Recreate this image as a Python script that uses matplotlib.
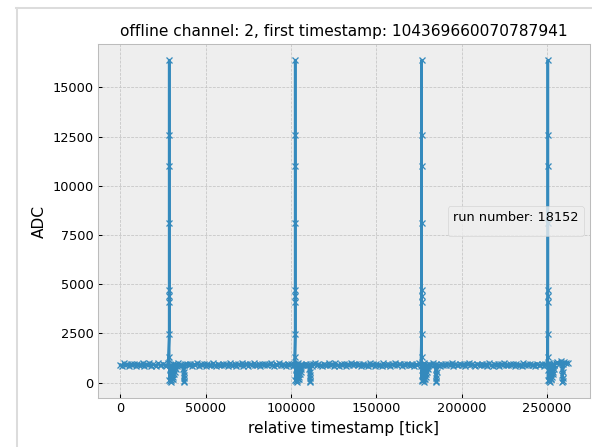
import numpy as np
import matplotlib
matplotlib.use("Agg")
import matplotlib.pyplot as plt
from matplotlib.lines import Line2D
from matplotlib.ticker import MultipleLocator

plt.style.use("bmh")

# ---- data ----
title_text = "offline channel: 2, first timestamp: 104369660070787941"
run_label = "run number: 18152"

# baseline samples (every 1000 ticks)
baseline_step = 1000
baseline_adc = [
    905, 860, 985, 880, 940, 835, 970, 900, 925, 855,
    960, 875, 915, 1000, 840, 935, 890, 975, 865, 945,
    910, 850, 980, 895, 880, 950, 920, 860, 995, 905,
    870, 955, 930, 845, 975, 890, 915, 875, 960, 925,
    885, 970, 840, 935, 905, 990, 865, 930, 895, 955,
    855, 945, 910, 880, 1005, 900, 865, 950, 920, 875,
    965, 890, 935, 845, 980, 905, 885, 960, 860, 940,
    900, 990, 870, 925, 950, 855, 935, 895, 975, 880,
    915, 955, 865, 945, 890, 970, 875, 930, 995, 900,
    850, 940, 905, 980, 880, 950, 920, 860, 965, 890,
    935, 870, 960, 900, 995, 865, 945, 910, 875, 970,
    895, 950, 855, 930, 985, 885, 940, 905, 865, 960,
    920, 880, 975, 895, 950, 870, 990, 910, 860, 945,
    905, 965, 850, 935, 890, 980, 875, 925, 955, 885,
    940, 860, 970, 900, 915, 850, 985, 895, 930, 870,
    955, 890, 920, 840, 975, 910, 880, 965, 865, 935,
    900, 985, 875, 930, 945, 855, 925, 905, 970, 885,
    910, 960, 870, 940, 895, 975, 865, 935, 990, 900,
    845, 930, 915, 980, 885, 955, 920, 870, 960, 895,
    925, 875, 955, 905, 1000, 860, 945, 915, 880, 965,
    890, 945, 860, 925, 980, 890, 935, 900, 870, 950,
    915, 885, 970, 890, 955, 865, 985, 905, 855, 940,
    900, 960, 855, 930, 895, 975, 880, 920, 950, 890,
    935, 865, 965, 905, 920, 845, 980, 900, 925, 875,
    950, 895, 915, 850, 970, 905, 885, 960, 870, 930,
    905, 980, 870, 935, 940, 990, 1040, 960, 1090, 935,
    1060, 985, 1020,
]

# pulse start ticks
pulse_starts = [28600, 102400, 176400, 250400]
# pulse: tick offsets and ADC values
pulse_offsets = [0, 3, 6, 9, 12, 15, 18, 21, 24]
pulse_adc = [2449, 8128, 16383, 12566, 11020, 4694, 4388, 4097, 1290]
# undershoot after the pulse
dip_offsets = [100, 300, 500, 700, 900, 1100, 1300, 1500, 1700, 1900,
               2100, 2300, 2500, 2700, 2900, 3100, 3300, 3500, 3700, 3900]
dip_adc = [150, 650, 80, 720, 120, 560, 60, 680, 200, 760,
           170, 620, 300, 800, 420, 850, 560, 900, 720, 880]
# secondary small dip
dip2_offsets = [8300, 8400, 8500, 8600, 8700, 8800]
dip2_adc = [700, 380, 40, 250, 90, 520]

# ---- assemble ----
xs = list(np.arange(len(baseline_adc)) * baseline_step)
ys = list(baseline_adc)
for s in pulse_starts:
    for off, v in zip(pulse_offsets + dip_offsets + dip2_offsets,
                      pulse_adc + dip_adc + dip2_adc):
        xs.append(s + off)
        ys.append(v)
xs = np.array(xs)
ys = np.array(ys)
order = np.argsort(xs, kind="stable")
xs, ys = xs[order], ys[order]

fig = plt.figure(figsize=(6.4, 447 / 92.5), dpi=92.5, facecolor="white")
ax = fig.add_axes([98 / 592, 1 - 398 / 447, (590 - 98) / 592, (398 - 44) / 447])
ax.plot(xs, ys, marker="x", color="#348ABD", lw=2, ms=5, mew=1)
ax.yaxis.set_major_locator(MultipleLocator(2500))
ax.set_title(title_text, fontsize=12)
ax.set_xlabel("relative timestamp [tick]", fontsize=12)
ax.set_ylabel("ADC", fontsize=12)
ax.tick_params(labelsize=10)
ax.grid(True, color="#c4c4c4", linestyle="--", linewidth=0.6)
ax.legend(handles=[], title=run_label, loc="center right")

# frame lines around figure (container border)
fig.add_artist(Line2D([16 / 592, 1], [1 - 8.5 / 447, 1 - 8.5 / 447],
                      transform=fig.transFigure, color="#dcdcdc", lw=1.6))
fig.add_artist(Line2D([16.5 / 592, 16.5 / 592], [0, 1 - 8.5 / 447],
                      transform=fig.transFigure, color="#dcdcdc", lw=1.6))

fig.savefig("out.png", dpi=92.5, facecolor="white")
